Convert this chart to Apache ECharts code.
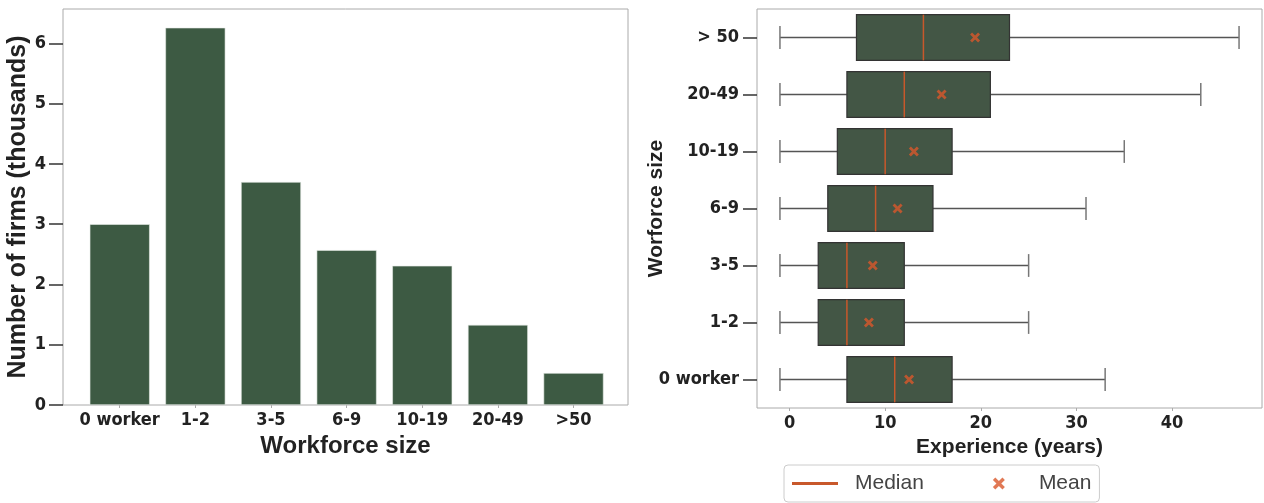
<!DOCTYPE html>
<html>
<head>
<meta charset="utf-8">
<script src="https://cdn.jsdelivr.net/npm/echarts@6/dist/echarts.min.js"></script>
<style>
  html, body { margin: 0; padding: 0; background: #fff; }
  #chart { width: 1264px; height: 503px; }
</style>
</head>
<body>
<div id="chart"></div>
<script>
// left panel: number of firms by workforce size
const barCats = ['0 worker', '1-2', '3-5', '6-9', '10-19', '20-49', '>50'];
const firms = [3.0, 6.26, 3.70, 2.57, 2.31, 1.33, 0.53];
const firmTicks = [0, 1, 2, 3, 4, 5, 6];

// right panel: experience distribution per workforce size (bottom to top)
const boxCats = ['0 worker', '1-2', '3-5', '6-9', '10-19', '20-49', '> 50'];
const whiskerLow = [-1, -1, -1, -1, -1, -1, -1];
const q1 = [6, 3, 3, 4, 5, 6, 7];
const median = [11, 6, 6, 9, 10, 12, 14];
const q3 = [17, 12, 12, 15, 17, 21, 23];
const whiskerHigh = [33, 25, 25, 31, 35, 43, 47];
const mean = [12.5, 8.3, 8.7, 11.3, 13.0, 15.9, 19.4];
const expTicks = [0, 10, 20, 30, 40];

const GREEN = '#3d5a43';
const BOX = '#435645';
const ORANGE = '#c8582b';
const NARROW = "'Liberation Sans Narrow', 'DejaVu Sans Condensed', 'Liberation Sans', sans-serif";
const SANS = "'Liberation Sans', Arial, sans-serif";
const X_PATH = 'path://M2,0 L5,3 L8,0 L10,2 L7,5 L10,8 L8,10 L5,7 L2,10 L0,8 L3,5 L0,2 Z';

const tickLabel = { fontFamily: NARROW, fontWeight: 'bold', fontSize: 18, color: '#222' };
const axisTitle = { fontFamily: SANS, fontWeight: 'bold', fontSize: 21, color: '#222' };
const bigTitle = { ...axisTitle, fontSize: 24 };

const boxData = boxCats.map((c, i) => [i, whiskerLow[i], q1[i], median[i], q3[i], whiskerHigh[i]]);
const meanData = boxCats.map((c, i) => [mean[i], i]);

function renderBox(params, api) {
  const cat = api.value(0);
  const lo = api.coord([api.value(1), cat]);
  const a = api.coord([api.value(2), cat]);
  const md = api.coord([api.value(3), cat]);
  const b = api.coord([api.value(4), cat]);
  const hi = api.coord([api.value(5), cat]);
  const h = api.size([0, 1])[1] * 0.8;
  const y = lo[1];
  const whisk = { stroke: '#555', lineWidth: 1.3 };
  return {
    type: 'group',
    children: [
      { type: 'line', shape: { x1: lo[0], y1: y, x2: a[0], y2: y }, style: whisk },
      { type: 'line', shape: { x1: b[0], y1: y, x2: hi[0], y2: y }, style: whisk },
      { type: 'line', shape: { x1: lo[0], y1: y - h / 4, x2: lo[0], y2: y + h / 4 }, style: { stroke: '#777', lineWidth: 1.5 } },
      { type: 'line', shape: { x1: hi[0], y1: y - h / 4, x2: hi[0], y2: y + h / 4 }, style: { stroke: '#777', lineWidth: 1.5 } },
      { type: 'rect', shape: { x: a[0], y: y - h / 2, width: b[0] - a[0], height: h }, style: { fill: BOX, stroke: '#333', lineWidth: 1.2 } },
      { type: 'line', shape: { x1: md[0], y1: y - h / 2, x2: md[0], y2: y + h / 2 }, style: { stroke: ORANGE, lineWidth: 1.5 } }
    ]
  };
}

const chart = echarts.init(document.getElementById('chart'), null, { renderer: 'canvas' });
chart.setOption({
  backgroundColor: '#fff',
  animation: false,
  grid: [
    { left: 63, top: 9, width: 565, height: 396, show: true, borderColor: '#aaa', borderWidth: 1 },
    { left: 757, top: 9, width: 505, height: 399, show: true, borderColor: '#aaa', borderWidth: 1 }
  ],
  xAxis: [
    {
      gridIndex: 0, type: 'value', min: -0.75, max: 6.72,
      axisLine: { show: false, onZero: false }, splitLine: { show: false },
      axisTick: { show: true, customValues: firmTicks, length: 3, lineStyle: { color: '#aaa' } },
      axisLabel: { customValues: firmTicks, formatter: v => barCats[v], margin: 6, ...tickLabel },
      name: 'Workforce size', nameLocation: 'middle', nameGap: 26, nameTextStyle: bigTitle
    },
    {
      gridIndex: 1, type: 'value', min: -3.4, max: 49.4,
      axisLine: { show: false, onZero: false }, splitLine: { show: false },
      axisTick: { show: true, customValues: expTicks, length: 3, lineStyle: { color: '#aaa' } },
      axisLabel: { customValues: expTicks, margin: 6, ...tickLabel },
      name: 'Experience (years)', nameLocation: 'middle', nameGap: 24, nameTextStyle: axisTitle
    }
  ],
  yAxis: [
    {
      gridIndex: 0, type: 'value', min: 0, max: 6.57,
      axisLine: { show: false, onZero: false }, splitLine: { show: false },
      axisTick: { show: true, customValues: firmTicks, length: 14, lineStyle: { color: '#333', width: 1.5 } },
      axisLabel: { customValues: firmTicks, margin: 17, ...tickLabel },
      name: 'Number of firms (thousands)', nameLocation: 'middle', nameGap: 32, nameTextStyle: { ...axisTitle, fontSize: 25 }
    },
    {
      gridIndex: 1, type: 'category', data: boxCats,
      axisLine: { show: false, onZero: false }, splitLine: { show: false },
      axisTick: { show: true, alignWithLabel: true, length: 14, lineStyle: { color: '#333', width: 1.5 } },
      axisLabel: { margin: 18, ...tickLabel },
      name: 'Worforce size', nameLocation: 'middle', nameGap: 90, nameMoveOverlap: false, nameTextStyle: axisTitle
    }
  ],
  legend: {
    left: 784, top: 465,
    padding: [8, 8],
    borderColor: '#ccc', borderWidth: 1, borderRadius: 4,
    itemWidth: 46, itemHeight: 12, itemGap: 69,
    textStyle: { fontFamily: SANS, fontSize: 21, color: '#444', padding: [0, 0, 0, 12] },
    data: [
      { name: 'Median', icon: 'path://M0,0H46V3H0Z', itemStyle: { color: ORANGE } },
      { name: 'Mean', icon: X_PATH, itemStyle: { color: '#d9572b' } }
    ]
  },
  series: [
    {
      type: 'bar', xAxisIndex: 0, yAxisIndex: 0,
      data: barCats.map((c, i) => [i, firms[i]]),
      barWidth: 60,
      itemStyle: { color: GREEN, borderColor: '#e8ece8', borderWidth: 0.6 }
    },
    {
      name: 'Median', type: 'custom', xAxisIndex: 1, yAxisIndex: 1,
      renderItem: renderBox, data: boxData,
      encode: { x: [1, 2, 3, 4, 5], y: 0 },
      itemStyle: { color: ORANGE }
    },
    {
      name: 'Mean', type: 'scatter', xAxisIndex: 1, yAxisIndex: 1,
      data: meanData, symbol: X_PATH, symbolSize: 10,
      itemStyle: { color: '#d9572b' }, z: 5
    }
  ]
});
</script>
</body>
</html>
